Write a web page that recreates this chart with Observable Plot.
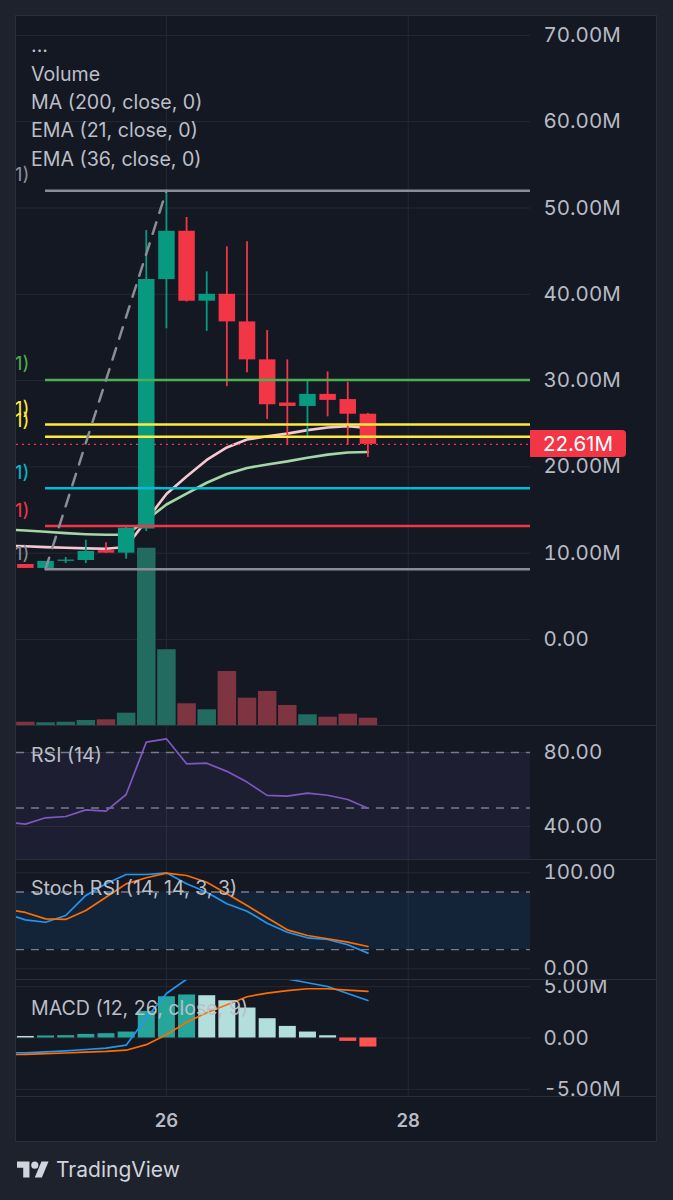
<!DOCTYPE html>
<html><head><meta charset="utf-8">
<script src="https://cdn.jsdelivr.net/npm/d3@7"></script>
<script src="https://cdn.jsdelivr.net/npm/@observablehq/plot@0.6"></script>
<style>
html,body{margin:0;padding:0;background:#1e222d;}
#root{position:relative;width:673px;height:1200px;background:#1e222d;overflow:hidden;font-family:Inter,"Noto Sans",sans-serif;}
#panel{position:absolute;left:16px;top:16px;width:640px;height:1125px;background:#141823;outline:1px solid #2a2e39;}
.lbl{position:absolute;left:31px;color:#bcbfc7;font-size:19.6px;line-height:19.6px;white-space:nowrap;}
.sep{position:absolute;left:16px;width:640px;height:1px;background:#2a2e39;}
</style></head><body><div id="root"><div id="panel"></div></div>
<script>
// ---------- data (4h candles) ----------
const times = ["2024-11-24T16:00Z","2024-11-24T20:00Z","2024-11-25T00:00Z","2024-11-25T04:00Z","2024-11-25T08:00Z","2024-11-25T12:00Z","2024-11-25T16:00Z","2024-11-25T20:00Z","2024-11-26T00:00Z","2024-11-26T04:00Z","2024-11-26T08:00Z","2024-11-26T12:00Z","2024-11-26T16:00Z","2024-11-26T20:00Z","2024-11-27T00:00Z","2024-11-27T04:00Z","2024-11-27T08:00Z","2024-11-27T12:00Z","2024-11-27T16:00Z"];
const open  = [8.9, 8.69, 8.23, 9.05, 9.15, 10.3, 10.0, 12.8, 41.7, 47.3, 39.2, 40.0, 36.8, 32.4, 27.4, 27.0, 28.4, 27.8, 26.1];
const high  = [9.0, 8.69, 9.04, 9.5, 11.5, 11.2, 13.2, 47.4, 52.0, 48.9, 42.6, 45.5, 46.1, 35.8, 32.4, 29.9, 31.0, 29.8, 26.2];
const low   = [8.5, 8.23, 8.15, 8.8, 8.8, 10.0, 9.3, 12.5, 36.0, 39.1, 35.7, 29.3, 30.9, 25.5, 22.5, 23.5, 25.8, 22.5, 21.1];
const close = [8.69, 8.23, 9.04, 9.2, 10.2, 10.0, 12.9, 41.7, 47.3, 39.2, 40.0, 36.8, 32.4, 27.2, 27.0, 28.4, 27.7, 26.1, 22.61];
const volume = [4, 3.3, 2.7, 3.3, 5, 5.7, 12.3, 177, 75.7, 21.7, 15.7, 54, 27.3, 34, 20, 10.7, 8.3, 11.3, 7.3];
const ema21 = [10.85, 10.81, 10.70, 10.63, 10.55, 10.51, 10.72, 13.80, 16.85, 18.88, 20.80, 22.25, 23.17, 23.54, 23.85, 24.26, 24.57, 24.71, 24.52];
const ema36 = [12.75, 12.63, 12.48, 12.32, 12.20, 12.13, 12.15, 13.83, 15.64, 16.91, 18.16, 19.17, 19.88, 20.28, 20.64, 21.06, 21.42, 21.67, 21.72];
const rsi = [42.5, 41.3, 44.7, 45.4, 49.0, 48.3, 57.3, 85.6, 87.4, 73.9, 74.2, 69.8, 64.0, 56.8, 56.4, 58.0, 56.9, 54.6, 49.9];
const stochK = [57.7, 51.0, 48.5, 55.5, 76.4, 88.5, 98.2, 98.2, 100, 88.5, 79.8, 67.7, 60.0, 47.5, 38.1, 32.3, 30.5, 25.0, 16.3];
const stochD = [62.0, 58.7, 52.0, 51.4, 60.7, 74.6, 88.5, 94.8, 99.6, 97.2, 90.2, 78.1, 65.9, 53.1, 40.6, 34.7, 31.3, 27.7, 23.2];
const macd   = [-1.42, -1.45, -1.36, -1.25, -1.12, -0.98, -0.70, 1.94, 4.34, 5.73, 6.58, 6.87, 6.94, 6.26, 5.75, 5.38, 5.02, 4.34, 3.66];
const signal = [-1.62, -1.60, -1.53, -1.46, -1.38, -1.31, -1.19, -0.65, 0.32, 1.54, 2.46, 3.24, 4.02, 4.38, 4.62, 4.80, 4.80, 4.67, 4.54];
const hist   = [0.20, 0.15, 0.20, 0.23, 0.35, 0.42, 0.58, 2.59, 4.02, 4.19, 4.12, 3.63, 2.92, 1.88, 1.13, 0.58, 0.22, -0.33, -0.88];
// fib retracement drawing
const fibLevels = [52.0, 30.08, 24.92, 23.5, 17.53, 13.15, 8.15];
const fibColors = ["#8a8d96", "#4caf50", "#ffeb3b", "#ffeb3b", "#00bcd4", "#f23645", "#8a8d96"];
const fibStartTime = times[2];
const trendTimes = [times[2], times[8]];
const trendValues = [8.15, 52.0];
// ticks
const priceTicks = [0, 10, 20, 30, 40, 50, 60, 70];
const rsiTicks = [40, 80];
const rsiBands = [80, 50, 20];
const stochTicks = [0, 100];
const stochBands = [80, 20];
const macdTicks = [-5, 0, 5];
const timeTicks = ["2024-11-26T00:00Z", "2024-11-28T00:00Z"];
const timeLabels = ["26", "28"];
const legendLines = ["...", "Volume", "MA (200, close, 0)", "EMA (21, close, 0)", "EMA (36, close, 0)"];

// ---------- layout ----------
const FONT = "Inter, 'Noto Sans', sans-serif";
const W = 640, MR = 126;
const GRID = "#252934";
const TXT = "#b8bbc3";
const UP = "#089981", DN = "#f23645";
const xDomain = [new Date("2024-11-24T18:14Z"), new Date("2024-11-29T00:17Z")];
const gridDates = timeTicks.map(t => new Date(t));
const rows = times.map((t, i) => ({
  date: new Date(t), open: open[i], high: high[i], low: low[i], close: close[i],
  volume: volume[i], ema21: ema21[i], ema36: ema36[i], rsi: rsi[i],
  k: stochK[i], d: stochD[i], macd: macd[i], signal: signal[i], hist: hist[i],
  up: close[i] >= open[i],
  histColor: hist[i] >= 0 ? (i > 0 && hist[i] > hist[i-1] ? "#26a69a" : "#b2dfdb")
                          : (i > 0 && hist[i] < hist[i-1] ? "#ff5252" : "#ffcdd2")
}));
const fibRows = fibLevels.map((v, i) => ({level: v, color: fibColors[i], x1: new Date(fibStartTime), x2: xDomain[1]}));
const trendRows = trendTimes.map((t, i) => ({date: new Date(t), v: trendValues[i]}));

const root = document.getElementById("root");
function place(node, top) {
  node.style.position = "absolute";
  node.style.left = "16px";
  node.style.top = top + "px";
  root.appendChild(node);
  return node;
}
function basePlot(height, yDomain, marks) {
  return Plot.plot({
    width: W, height, marginLeft: 0, marginRight: MR, marginTop: 0, marginBottom: 0,
    x: {type: "utc", domain: xDomain, axis: null},
    y: {domain: yDomain, axis: null},
    color: {type: "identity"},
    style: {background: "transparent", color: TXT, fontFamily: FONT, fontSize: "20px", overflow: "hidden"},
    marks
  });
}
function gridLayer(height, yDomain, ticks, fmt) {
  return basePlot(height, yDomain, [
    Plot.gridY(ticks, {stroke: GRID, strokeOpacity: 1}),
    Plot.gridX(gridDates, {stroke: GRID, strokeOpacity: 1}),
    Plot.axisY(ticks, {anchor: "right", tickSize: 0, tickPadding: 13, tickFormat: fmt, fontSize: 20.5, fill: TXT})
  ]);
}
const fmtM = v => v === 0 ? "0.00" : v.toFixed(2) + "M";

// ---------- main pane ----------
const mainTop = 16, mainH = 709, mainDomain = [-9.97, 72.19];
place(gridLayer(mainH, mainDomain, priceTicks, fmtM), mainTop);
place(basePlot(mainH, [0, d3.max(volume) / 0.25], [
  Plot.ruleX(rows, {x: "date", y1: 0, y2: "volume", stroke: d => d.up ? "#226b61" : "#7f3442", strokeWidth: 18.5, clip: true})
]), mainTop);
const mainPlot = place(basePlot(mainH, mainDomain, [
  Plot.line(rows, {x: "date", y: "ema36", stroke: "#a5d6a7", strokeWidth: 2.6, clip: true}),
  Plot.line(rows, {x: "date", y: "ema21", stroke: "#f6c9d1", strokeWidth: 2.6, clip: true}),
  Plot.ruleY([close[close.length - 1]], {stroke: DN, strokeWidth: 1.3, strokeDasharray: "2,4"}),
  Plot.ruleX(rows, {x: "date", y1: "low", y2: "high", stroke: d => d.up ? UP : DN, strokeWidth: 1.8, clip: true}),
  Plot.ruleX(rows, {x: "date", y1: "open", y2: "close", stroke: d => d.up ? UP : DN, strokeWidth: 16.5, clip: true}),
  Plot.ruleY(fibRows, {y: "level", x1: "x1", x2: "x2", stroke: "color", strokeWidth: 2.5, clip: true}),
  Plot.line(trendRows, {x: "date", y: "v", stroke: "#8a8d96", strokeWidth: 2.5, strokeDasharray: "12,10", clip: true}),
  Plot.text(fibRows, {y: "level", text: () => "1)", frameAnchor: "left", textAnchor: "end", dx: 13, dy: -15.5, fill: "color", fontSize: 19})
]), mainTop);

// last price label
const py = mainPlot.scale("y").apply(close[close.length - 1]) + mainTop;
const tag = document.createElement("div");
tag.textContent = close[close.length - 1].toFixed(2) + "M";
Object.assign(tag.style, {position: "absolute", left: "530px", top: (py - 13.5) + "px", width: "96px", height: "27px",
  background: DN, color: "#ffffff", fontSize: "20.5px", lineHeight: "27px", paddingLeft: "13px", boxSizing: "border-box",
  borderRadius: "0 4px 4px 0", fontFamily: FONT});
root.appendChild(tag);

// ---------- RSI pane ----------
const rsiTop = 726, rsiH = 133, rsiDomain = [22.16, 94.05];
place(gridLayer(rsiH, rsiDomain, rsiTicks, v => v.toFixed(2)), rsiTop);
place(basePlot(rsiH, rsiDomain, [
  Plot.rect([{y1: rsiBands[2], y2: rsiBands[0]}], {y1: "y1", y2: "y2", fill: "#7e57c2", fillOpacity: 0.1, clip: true}),
  Plot.ruleY(rsiBands.slice(0, 2), {stroke: "#787b86", strokeWidth: 1.3, strokeDasharray: "8,7"}),
  Plot.line(rows, {x: "date", y: "rsi", stroke: "#7e57c2", strokeWidth: 1.7, clip: true})
]), rsiTop);

// ---------- Stoch RSI pane ----------
const stTop = 859, stH = 120, stDomain = [-11.15, 113.85];
place(gridLayer(stH, stDomain, stochTicks, v => v.toFixed(2)), stTop);
place(basePlot(stH, stDomain, [
  Plot.rect([{y1: stochBands[1], y2: stochBands[0]}], {y1: "y1", y2: "y2", fill: "#2196f3", fillOpacity: 0.1, clip: true}),
  Plot.ruleY(stochBands, {stroke: "#787b86", strokeWidth: 1.3, strokeDasharray: "8,7"}),
  Plot.line(rows, {x: "date", y: "k", stroke: "#2196f3", strokeWidth: 1.7, clip: true}),
  Plot.line(rows, {x: "date", y: "d", stroke: "#ff6d00", strokeWidth: 1.7, clip: true})
]), stTop);

// ---------- MACD pane ----------
const mTop = 979, mH = 117, mDomain = [-5.7, 5.7];
place(gridLayer(mH, mDomain, macdTicks, fmtM), mTop);
place(basePlot(mH, mDomain, [
  Plot.ruleX(rows, {x: "date", y1: 0, y2: "hist", stroke: "histColor", strokeWidth: 17, clip: true}),
  Plot.line(rows, {x: "date", y: "macd", stroke: "#2196f3", strokeWidth: 1.7, clip: true}),
  Plot.line(rows, {x: "date", y: "signal", stroke: "#ff6d00", strokeWidth: 1.7, clip: true})
]), mTop);

// ---------- time axis ----------
place(basePlot(45, [0, 1], [
  Plot.text(timeTicks, {x: d => new Date(d), text: (d, i) => timeLabels[i], frameAnchor: "middle", dy: 2.5,
    fontWeight: 600, fontSize: 18.5, fill: TXT})
]), 1096);

// separators
[725, 859, 979, 1096].forEach(y => {
  const s = document.createElement("div"); s.className = "sep"; s.style.top = y + "px"; root.appendChild(s);
});

// legend and pane titles
const legendBaselines = [53, 82, 110, 138, 166.5];
legendLines.forEach((t, i) => {
  const d = document.createElement("div"); d.className = "lbl"; d.textContent = t;
  d.style.top = (legendBaselines[i] - 16.9) + "px"; root.appendChild(d);
});
[["RSI (14)", 763], ["Stoch RSI (14, 14, 3, 3)", 896], ["MACD (12, 26, close, 9)", 1016]].forEach(([t, b]) => {
  const d = document.createElement("div"); d.className = "lbl"; d.textContent = t;
  d.style.top = (b - 16.9) + "px"; root.appendChild(d);
});

// TradingView logo
const logo = document.createElement("div");
logo.innerHTML = '<svg width="32" height="25" viewBox="0 0 36 28" style="position:absolute;left:17px;top:1158px"><path fill="#d1d4dc" d="M14 22H7V11H0V4h14v18zM28 22h-8l7.5-18h8L28 22z"/><circle fill="#d1d4dc" cx="20" cy="8" r="4"/></svg>' +
  '<div style="position:absolute;left:56px;top:1157px;color:#d1d4dc;font-size:21px;line-height:26px;font-family:Inter,sans-serif">TradingView</div>';
root.appendChild(logo);
</script></body></html>
